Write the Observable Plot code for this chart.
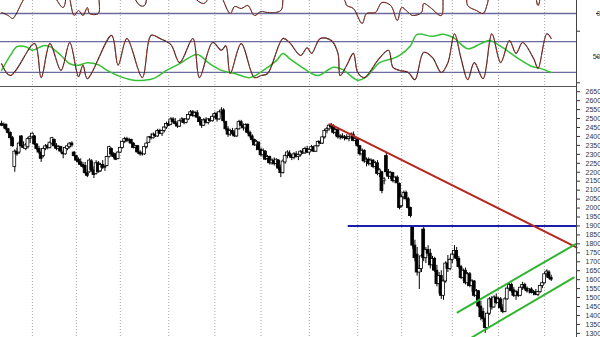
<!DOCTYPE html>
<html><head><meta charset="utf-8">
<script src="https://cdn.jsdelivr.net/npm/d3@7"></script>
<script src="https://cdn.jsdelivr.net/npm/@observablehq/plot@0.6"></script>
<style>
html,body{margin:0;padding:0;background:#fff;overflow:hidden}
#chart svg{display:block}
</style></head><body><div id="chart"></div>
<script>
// ---- price bars (daily OHLC) ----
const open = [
2470,2460,2465,2440,2420,2390,2230,2315,2310,2400,
2345,2330,2340,2385,2395,2400,2355,2330,2310,2290,
2330,2345,2335,2360,2380,2345,2330,2340,2310,2300,
2330,2340,2360,2310,2290,2270,2255,2240,2235,2195,
2200,2260,2210,2190,2250,2205,2240,2225,2235,2285,
2330,2300,2300,2275,2310,2335,2370,2385,2375,2380,
2360,2335,2345,2310,2300,2300,2340,2365,2395,2390,
2410,2400,2430,2415,2430,2450,2470,2465,2495,2480,
2470,2455,2485,2495,2475,2495,2520,2535,2515,2530,
2505,2480,2460,2490,2475,2495,2485,2510,2525,2495,
2535,2545,2480,2440,2410,2430,2415,2400,2440,2480,
2460,2445,2465,2420,2400,2380,2350,2365,2325,2295,
2315,2275,2285,2250,2265,2245,2265,2225,2195,2255,
2290,2305,2290,2280,2300,2285,2295,2315,2305,2330,
2310,2325,2340,2315,2345,2370,2360,2395,2430,2440,
2460,2455,2420,2435,2395,2400,2390,2395,2385,2395,
2410,2375,2380,2345,2300,2320,2260,2270,2245,2265,
2230,2250,2190,2200,2150,2290,2200,2175,2195,2150,
2170,2135,2010,2060,2085,2050,2000,1895,1790,1740,
1640,1660,1880,1720,1765,1745,1680,1715,1650,1575,
1620,1510,1590,1690,1660,1710,1740,1760,1715,1670,
1610,1650,1580,1630,1565,1590,1510,1535,1450,1420,
1380,1330,1410,1490,1445,1500,1470,1490,1440,1420,
1490,1550,1570,1540,1510,1530,1510,1555,1570,1550,
1535,1545,1525,1530,1515,1530,1565,1580,1630,1640,
1610];
const high = [
2485,2475,2470,2445,2425,2400,2325,2335,2370,2405,
2370,2360,2395,2405,2420,2405,2360,2345,2330,2340,
2355,2355,2370,2395,2385,2360,2350,2345,2320,2340,
2355,2365,2370,2315,2295,2280,2275,2255,2255,2215,
2275,2270,2230,2265,2260,2250,2265,2240,2290,2345,
2335,2310,2305,2315,2340,2375,2395,2395,2390,2385,
2365,2350,2350,2320,2315,2345,2365,2400,2415,2420,
2425,2440,2440,2435,2455,2480,2485,2505,2505,2500,
2480,2490,2505,2500,2500,2525,2545,2545,2540,2545,
2510,2495,2500,2505,2500,2510,2520,2535,2535,2540,
2560,2555,2485,2455,2440,2445,2430,2445,2490,2490,
2470,2470,2470,2430,2410,2385,2378,2370,2335,2330,
2320,2294,2290,2275,2280,2275,2270,2240,2270,2300,
2320,2320,2300,2310,2315,2305,2320,2330,2340,2345,
2330,2350,2345,2350,2375,2380,2400,2440,2450,2470,
2472,2465,2445,2440,2410,2415,2405,2410,2400,2420,
2425,2390,2385,2350,2330,2325,2280,2280,2275,2270,
2260,2265,2220,2205,2170,2310,2215,2205,2200,2175,
2180,2140,2070,2095,2095,2060,2005,1900,1820,1780,
1680,1740,1900,1780,1790,1770,1730,1725,1680,1640,
1650,1600,1700,1735,1720,1750,1790,1780,1730,1680,
1660,1665,1640,1640,1600,1595,1545,1540,1480,1440,
1390,1420,1500,1505,1510,1520,1500,1500,1460,1500,
1560,1580,1580,1556,1540,1545,1560,1585,1580,1560,
1550,1555,1540,1545,1535,1570,1590,1640,1655,1650,
1625];
const low = [
2455,2445,2430,2410,2380,2340,2200,2290,2300,2340,
2330,2320,2330,2360,2390,2350,2320,2300,2255,2280,
2320,2325,2330,2350,2340,2320,2315,2305,2275,2295,
2320,2330,2340,2285,2260,2240,2230,2220,2185,2170,
2195,2200,2165,2185,2195,2200,2215,2205,2230,2280,
2290,2275,2265,2270,2305,2330,2360,2365,2360,2355,
2330,2310,2300,2290,2290,2295,2330,2360,2380,2385,
2395,2395,2410,2400,2420,2440,2455,2460,2470,2460,
2445,2450,2475,2465,2470,2490,2510,2505,2505,2500,
2470,2445,2455,2470,2465,2480,2480,2500,2480,2490,
2520,2475,2430,2395,2400,2405,2395,2395,2435,2455,
2430,2420,2410,2390,2365,2345,2320,2320,2285,2280,
2265,2250,2240,2240,2235,2225,2210,2170,2190,2245,
2275,2280,2265,2270,2280,2265,2285,2300,2300,2305,
2295,2315,2310,2310,2340,2355,2355,2385,2415,2430,
2440,2410,2400,2385,2380,2385,2375,2380,2370,2385,
2370,2355,2340,2290,2260,2250,2230,2235,2240,2220,
2215,2180,2170,2080,2130,2180,2160,2160,2140,2135,
2130,1990,2000,2045,2040,1990,1945,1770,1700,1620,
1545,1640,1700,1690,1730,1660,1650,1640,1560,1520,
1490,1485,1580,1640,1650,1690,1720,1700,1660,1600,
1590,1570,1560,1555,1530,1500,1480,1440,1370,1360,
1300,1320,1400,1430,1440,1460,1440,1430,1410,1415,
1485,1535,1525,1500,1485,1500,1505,1540,1540,1525,
1520,1520,1510,1510,1505,1525,1550,1575,1610,1600,
1590];
const close = [
2460,2465,2440,2420,2390,2345,2315,2300,2360,2345,
2335,2350,2385,2395,2415,2355,2330,2310,2275,2330,
2345,2335,2365,2390,2345,2330,2340,2315,2300,2335,
2345,2360,2350,2290,2265,2255,2240,2230,2195,2180,
2265,2210,2185,2250,2200,2240,2225,2230,2285,2340,
2300,2285,2270,2310,2335,2370,2385,2375,2380,2360,
2335,2345,2310,2300,2305,2340,2360,2395,2390,2410,
2400,2430,2415,2430,2450,2470,2460,2495,2480,2470,
2455,2485,2495,2475,2495,2520,2535,2515,2530,2505,
2480,2460,2490,2475,2495,2485,2510,2525,2495,2535,
2545,2485,2440,2410,2430,2415,2400,2440,2480,2460,
2445,2465,2420,2400,2380,2350,2370,2325,2295,2320,
2270,2285,2250,2265,2245,2270,2220,2195,2260,2290,
2310,2290,2280,2300,2285,2295,2315,2305,2330,2310,
2325,2340,2315,2345,2370,2360,2395,2430,2440,2460,
2450,2420,2435,2395,2400,2390,2395,2385,2395,2410,
2375,2385,2345,2300,2320,2260,2270,2245,2265,2230,
2250,2190,2210,2095,2160,2200,2175,2195,2150,2170,
2140,2000,2060,2085,2050,2000,1955,1790,1720,1640,
1660,1730,1720,1765,1745,1680,1715,1650,1575,1620,
1510,1590,1690,1660,1710,1740,1760,1715,1670,1610,
1650,1580,1630,1565,1590,1510,1535,1450,1390,1380,
1330,1410,1490,1445,1500,1470,1490,1440,1420,1490,
1550,1570,1535,1510,1530,1510,1555,1570,1550,1535,
1545,1525,1530,1515,1530,1565,1580,1630,1645,1610,
1600];

// month gridlines (bar index)
const monthBars = [14, 34, 54, 76, 97, 118, 140, 162, 182, 205, 226, 247];
// price axis labels
const priceTicks = [1300,1350,1400,1450,1500,1550,1600,1650,1700,1750,1800,1850,1900,1950,2000,
  2050,2100,2150,2200,2250,2300,2350,2400,2450,2500,2550,2600,2650];

// trend lines [bar index, price]
const downtrendBars = [149.6, 261.5], downtrendPrices = [2467, 1780];
const supportBars = [157.8, 261.5], supportPrices = [1900, 1900];
const channelTopBars = [207.4, 261.1], channelTopPrices = [1417, 1799];
const channelLowBars = [213.8, 260.2], channelLowPrices = [1277, 1612];

// stochastic %K (fast) and slow signal
const stochBars = [0,4,15,18,22,27,31,35,37,39,50,53,57,64,68,72,77,81,87,90,96,100,102,104,109,115,118,121,128,131,136,139,141,145,150,153,154,157,160,162,165,168,171,176,178,181,185,188,192,196,200,203,206,209,212,215,219,223,227,231,234,237,242,244,248,250];
const stochValues = [37,14,76,10,76,24,78,12,34,8,92,34,86,10,92,86,74,39,86,10,78,63,72,18,76,10,14,18,86,78,53,68,57,86,82,57,14,34,57,20,10,24,43,63,30,24,20,6,59,49,20,39,95,47,6,39,8,95,39,82,57,78,47,28,95,86];
const signalBars = [0,4,7,11,14,19,22,27,31,35,39,44,48,54,60,65,69,75,81,89,94,100,106,113,119,125,128,131,136,141,144,151,155,162,166,172,178,181,186,189,196,201,206,212,218,222,228,235,241,245,250];
const signalValues = [24,53,70,70,63,72,70,53,37,34,39,35,24,12,5,5,8,24,37,55,39,24,18,10,24,43,57,47,32,18,14,30,26,5,12,39,47,53,72,94,90,94,86,66,76,82,68,47,32,28,20];
const stochLevels = [80, 20];

// momentum oscillator (top strip)
const momBars = [0,3,5,7,9,13,20,28,30,33,35,37,39,40,44,45,54,63,65,68,81,92,97,104,106,109,112,115,118,121,127,129,141,156,157,160,164,166,170,173,177,180,182,185,187,191,192,195,200,202,211,212,216,219,221,223,241,244,246,250];
const momValues = [5,-10,-25,5,50,115,140,30,115,-10,15,-10,30,0,0,115,165,40,40,140,140,50,140,0,35,25,40,-10,10,5,15,115,165,65,40,25,-50,0,5,55,40,-35,30,5,-10,5,50,30,-10,140,140,40,15,0,50,140,140,40,115,140];

// ---- build tables ----
const bars = open.map((o, i) => ({i, open: o, high: high[i], low: low[i], close: close[i]}));
const pts = (xs, ys) => xs.map((x, k) => ({x, y: ys[k]}));
const stoch = pts(stochBars, stochValues);
const signal = pts(signalBars, signalValues);
const mom = pts(momBars, momValues);

const W = 600, MR = 24;
const xDom = [-0.5, 261.5];
const font = "'Liberation Sans', Arial, sans-serif";
const levelColor = "#6b6b9e";
const gridColor = "#a8a8a8";
const common = {width: W, marginLeft: 0, marginRight: MR, marginTop: 0, marginBottom: 0,
  x: {domain: xDom, axis: null}, style: {fontFamily: font, background: "#fff", color: "#333"}};
const grid = () => Plot.ruleX(monthBars, {stroke: gridColor, strokeDasharray: "1,2", strokeWidth: 1});
const osc = (data, w) => [
  Plot.line(data, {x: "x", y: "y", stroke: "#1a1a1a", strokeWidth: w, curve: "catmull-rom", clip: true}),
  Plot.line(data, {x: "x", y: "y", stroke: "#d04030", strokeWidth: w * 0.8, strokeDasharray: "2,2", curve: "catmull-rom", clip: true})
];

const momPlot = Plot.plot({...common, height: 27,
  y: {domain: [-70, 65], axis: null},
  marks: [
    grid(),
    Plot.ruleY([0], {stroke: levelColor, strokeWidth: 1.3}),
    ...osc(mom, 1),
    Plot.frame({anchor: "right", stroke: "#444"}),
    Plot.axisY([0], {anchor: "right", label: null, tickSize: 3, tickPadding: 2, textAnchor: "end", dx: 19, fontSize: 7, tickFormat: d => "0"})
  ]});

const stochPlot = Plot.plot({...common, height: 59,
  y: {domain: [-7.2, 107.2], axis: null},
  marks: [
    grid(),
    Plot.ruleY(stochLevels, {stroke: levelColor, strokeWidth: 1.3}),
    Plot.line(signal, {x: "x", y: "y", stroke: "#35c035", strokeWidth: 1.5, curve: "catmull-rom", clip: true}),
    ...osc(stoch, 1.1),
    Plot.frame({anchor: "right", stroke: "#444"}),
    Plot.axisY([0, 100], {anchor: "right", label: null, tickSize: 3, tickFormat: () => ""}),
    Plot.axisY([50], {anchor: "right", label: null, tickSize: 3, tickPadding: 2, textAnchor: "end", dx: 19, fontSize: 7, tickFormat: d => String(d)})
  ]});

const pricePlot = Plot.plot({...common, height: 251,
  y: {domain: [1277, 2679], axis: null},
  marks: [
    grid(),
    Plot.ruleX(bars, {x: "i", y1: "low", y2: "high", stroke: "#000", strokeWidth: 1}),
    Plot.rect(bars, {x1: d => d.i - 0.65, x2: d => d.i + 0.65, y1: "open", y2: "close",
      fill: d => d.close >= d.open ? "#fff" : "#000", stroke: "#000", strokeWidth: 0.8}),
    Plot.line(pts(supportBars, supportPrices), {x: "x", y: "y", stroke: "#1c1caa", strokeWidth: 2}),
    Plot.line(pts(downtrendBars, downtrendPrices), {x: "x", y: "y", stroke: "#b8261e", strokeWidth: 2}),
    Plot.line(pts(channelTopBars, channelTopPrices), {x: "x", y: "y", stroke: "#2fb52f", strokeWidth: 2}),
    Plot.line(pts(channelLowBars, channelLowPrices), {x: "x", y: "y", stroke: "#2fb52f", strokeWidth: 2}),
    Plot.frame({anchor: "top", stroke: "#555", strokeWidth: 1.2}),
    Plot.frame({anchor: "right", stroke: "#444"}),
    Plot.axisY(priceTicks, {anchor: "right", label: null, tickSize: 3, tickPadding: 6, fontSize: 7, tickFormat: "d"})
  ]});

const root = document.getElementById("chart");
root.append(momPlot, stochPlot, pricePlot);
</script></body></html>
